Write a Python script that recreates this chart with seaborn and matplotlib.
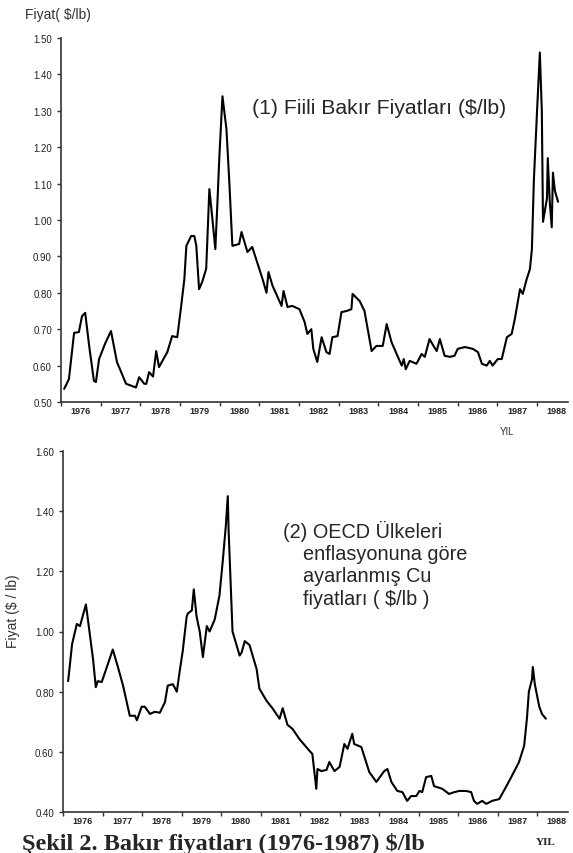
import matplotlib
matplotlib.use("Agg")
import matplotlib.pyplot as plt
import seaborn as sns
import numpy as np

# (1) actual copper prices, $/lb
years_actual = [1976.08, 1976.20, 1976.33, 1976.45, 1976.53, 1976.61, 1976.71, 1976.83, 1976.88, 1976.96,
                1977.11, 1977.26, 1977.41, 1977.64, 1977.79, 1977.89, 1977.97, 1978.10, 1978.15, 1978.22,
                1978.32, 1978.40, 1978.47, 1978.68, 1978.80, 1978.93, 1979.03, 1979.11, 1979.16, 1979.28,
                1979.36, 1979.41, 1979.48, 1979.56, 1979.66, 1979.74, 1979.81, 1979.89, 1979.94, 1979.99,
                1980.07, 1980.17, 1980.24, 1980.32, 1980.49, 1980.55, 1980.70, 1980.82, 1981.08, 1981.18,
                1981.23, 1981.33, 1981.56, 1981.61, 1981.71, 1981.83, 1982.01, 1982.14, 1982.21, 1982.31,
                1982.36, 1982.46, 1982.57, 1982.69, 1982.77, 1982.84, 1982.97, 1983.07, 1983.20, 1983.32,
                1983.35, 1983.53, 1983.65, 1983.83, 1983.95, 1984.11, 1984.21, 1984.33, 1984.46, 1984.59,
                1984.64, 1984.69, 1984.79, 1984.96, 1985.09, 1985.17, 1985.29, 1985.39, 1985.47, 1985.55,
                1985.67, 1985.80, 1985.92, 1986.00, 1986.18, 1986.38, 1986.51, 1986.61, 1986.73, 1986.81,
                1986.88, 1987.01, 1987.11, 1987.24, 1987.36, 1987.44, 1987.57, 1987.64, 1987.74, 1987.82,
                1987.87, 1987.92, 1988.00, 1988.07, 1988.12, 1988.15, 1988.25, 1988.27, 1988.32, 1988.37,
                1988.40, 1988.45, 1988.53]
price_actual = [0.536, 0.563, 0.690, 0.692, 0.736, 0.745, 0.654, 0.558, 0.555, 0.618,
                0.660, 0.695, 0.610, 0.550, 0.544, 0.540, 0.568, 0.550, 0.550, 0.582,
                0.570, 0.640, 0.596, 0.637, 0.681, 0.678, 0.764, 0.838, 0.929, 0.956,
                0.956, 0.930, 0.810, 0.830, 0.866, 1.085, 1.010, 0.920, 1.040, 1.170,
                1.340, 1.250, 1.110, 0.929, 0.934, 0.967, 0.912, 0.926, 0.838, 0.800,
                0.857, 0.820, 0.764, 0.805, 0.761, 0.764, 0.755, 0.720, 0.687, 0.700,
                0.646, 0.610, 0.678, 0.637, 0.632, 0.678, 0.681, 0.747, 0.750, 0.755,
                0.797, 0.777, 0.750, 0.640, 0.654, 0.654, 0.714, 0.665, 0.632, 0.600,
                0.618, 0.590, 0.613, 0.605, 0.632, 0.624, 0.673, 0.654, 0.640, 0.673,
                0.627, 0.624, 0.627, 0.646, 0.651, 0.646, 0.637, 0.605, 0.600, 0.613,
                0.600, 0.618, 0.618, 0.678, 0.687, 0.728, 0.810, 0.797, 0.838, 0.865,
                0.920, 1.110, 1.300, 1.460, 1.300, 0.995, 1.060, 1.170, 1.050, 0.980,
                1.130, 1.080, 1.050]

# (2) OECD inflation adjusted copper prices, $/lb
years_real = [1976.13, 1976.23, 1976.35, 1976.43, 1976.58, 1976.63, 1976.76, 1976.83, 1976.88, 1976.98,
              1977.26, 1977.39, 1977.52, 1977.69, 1977.82, 1977.87, 1977.99, 1978.07, 1978.20, 1978.32,
              1978.45, 1978.58, 1978.65, 1978.78, 1978.88, 1978.95, 1979.03, 1979.13, 1979.16, 1979.26,
              1979.31, 1979.38, 1979.46, 1979.54, 1979.64, 1979.71, 1979.84, 1979.96, 1980.04, 1980.12,
              1980.17, 1980.19, 1980.29, 1980.47, 1980.52, 1980.60, 1980.72, 1980.90, 1980.97, 1981.15,
              1981.30, 1981.48, 1981.56, 1981.68, 1981.81, 1981.98, 1982.24, 1982.31, 1982.41, 1982.44,
              1982.54, 1982.67, 1982.74, 1982.87, 1983.00, 1983.12, 1983.20, 1983.32, 1983.37, 1983.55,
              1983.75, 1983.93, 1984.13, 1984.21, 1984.31, 1984.46, 1984.59, 1984.71, 1984.81, 1984.94,
              1985.02, 1985.09, 1985.19, 1985.32, 1985.39, 1985.60, 1985.77, 1985.90, 1986.03, 1986.20,
              1986.33, 1986.40, 1986.48, 1986.61, 1986.71, 1986.86, 1987.04, 1987.21, 1987.36, 1987.54,
              1987.67, 1987.74, 1987.79, 1987.87, 1987.89, 1987.94, 1988.05, 1988.12, 1988.22]
price_real = [0.835, 0.958, 1.025, 1.018, 1.090, 1.040, 0.908, 0.815, 0.835, 0.832,
              0.940, 0.882, 0.820, 0.720, 0.720, 0.705, 0.750, 0.750, 0.726, 0.733,
              0.730, 0.765, 0.820, 0.825, 0.800, 0.865, 0.935, 1.050, 1.060, 1.070,
              1.140, 1.050, 1.000, 0.915, 1.018, 1.000, 1.040, 1.120, 1.230, 1.350,
              1.450, 1.340, 1.000, 0.920, 0.930, 0.968, 0.955, 0.875, 0.810, 0.770,
              0.745, 0.710, 0.745, 0.690, 0.676, 0.643, 0.603, 0.593, 0.477, 0.543,
              0.536, 0.540, 0.566, 0.536, 0.550, 0.626, 0.610, 0.660, 0.626, 0.616,
              0.533, 0.500, 0.536, 0.543, 0.500, 0.470, 0.466, 0.437, 0.453, 0.453,
              0.470, 0.466, 0.516, 0.520, 0.486, 0.477, 0.460, 0.466, 0.470, 0.470,
              0.466, 0.437, 0.427, 0.437, 0.427, 0.437, 0.443, 0.483, 0.520, 0.566,
              0.620, 0.710, 0.800, 0.842, 0.882, 0.825, 0.752, 0.726, 0.710]

year_labels = [str(y) for y in range(1976, 1989)]
top_yticks = [0.50, 0.60, 0.70, 0.80, 0.90, 1.00, 1.10, 1.20, 1.30, 1.40, 1.50]
bottom_yticks = [0.40, 0.60, 0.80, 1.00, 1.20, 1.40, 1.60]

sns.set_style("ticks")
plt.rcParams['font.family'] = ['Liberation Sans', 'DejaVu Sans']

W, H = 573, 854
fig = plt.figure(figsize=(W / 100, H / 100), dpi=100)

ax1 = fig.add_axes([61 / W, 1 - 403 / H, 507 / W, 364 / H])
ax2 = fig.add_axes([63 / W, 1 - 813 / H, 505 / W, 361 / H])

sns.lineplot(x=years_actual, y=price_actual, ax=ax1, color="black", lw=1.5)
sns.lineplot(x=years_real, y=price_real, ax=ax2, color="black", lw=1.5)

for ax, yt, lo, hi in [(ax1, top_yticks, 0.5, 1.5), (ax2, bottom_yticks, 0.4, 1.6)]:
    ax.set_xlim(1976, 1988.78)
    ax.set_ylim(lo, hi)
    ax.set_yticks(yt)
    ax.set_yticklabels([f"{v:.2f}" for v in yt], fontsize=7, color="#222222")
    ax.set_xticks(range(1976, 1989))
    ax.set_xticklabels([])
    ax.set_xticks(np.arange(1976.5, 1989), minor=True)
    ax.set_xticklabels(year_labels, minor=True, fontsize=6.5, fontweight="bold", color="#222222")
    ax.tick_params(axis="x", which="minor", length=0, pad=3)
    ax.tick_params(axis="both", which="major", length=3, width=1, direction="out", color="#333333")
    sns.despine(ax=ax)
    for s in ["left", "bottom"]:
        ax.spines[s].set_linewidth(1.2)
        ax.spines[s].set_color("#333333")
    ax.set_xlabel("")
    ax.set_ylabel("")

fig.text(25 / W, 1 - 15 / H, "Fiyat( $/lb)", fontsize=10, va="center", ha="left", color="#333333")
fig.text(252 / W, 1 - 108 / H, "(1) Fiili Bakır Fiyatları ($/lb)", fontsize=15.3, va="center", ha="left")
fig.text(507 / W, 1 - 432 / H, "YIL", fontsize=7, va="center", ha="center", color="#333333")

fig.text(283 / W, 1 - 531 / H, "(2) OECD Ülkeleri", fontsize=14.3, va="center", ha="left")
fig.text(303 / W, 1 - 554 / H, "enflasyonuna göre", fontsize=14.3, va="center", ha="left")
fig.text(303 / W, 1 - 577 / H, "ayarlanmış Cu", fontsize=14.3, va="center", ha="left")
fig.text(303 / W, 1 - 600 / H, "fiyatları ( $/lb )", fontsize=14.3, va="center", ha="left")

fig.text(13 / W, 1 - 611 / H, "Fiyat ($ / lb)", fontsize=10, rotation=90, va="center", ha="center", color="#333333")

fig.text(22 / W, 1 - 850 / H, "Şekil 2. Bakır fiyatları (1976-1987) $/lb", fontsize=17.5,
         fontweight="bold", family=["Liberation Serif", "DejaVu Serif"], va="baseline", ha="left")
fig.text(546 / W, 1 - 843 / H, "YIL", fontsize=8, fontweight="bold",
         family=["Liberation Serif", "DejaVu Serif"], va="center", ha="center")

fig.savefig("out.png", dpi=100)
